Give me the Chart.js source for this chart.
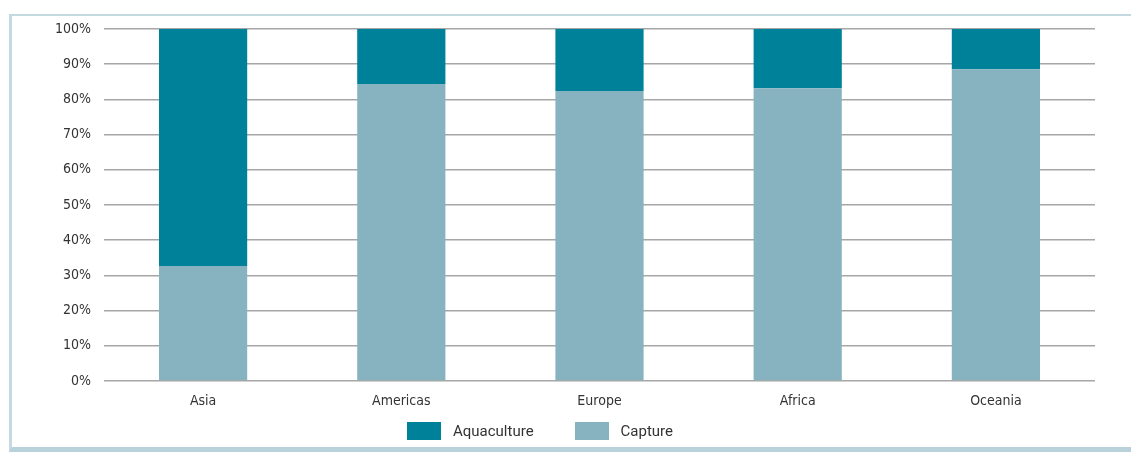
<!DOCTYPE html>
<html>
<head>
<meta charset="utf-8">
<script src="https://cdn.jsdelivr.net/npm/chart.js@4.4.1/dist/chart.umd.min.js"></script>
<style>
  html, body { margin: 0; padding: 0; background: #fff; }
  .frame {
    position: absolute; left: 9px; top: 14px; width: 1140px; height: 431px;
    border-left: 3px solid #c4d9e0; border-top: 2px solid #c4d9e0; border-bottom: 5px solid #b9d1da;
  }
  #chart { position: absolute; left: 0; top: 0; }
  #legend {
    position: absolute; left: 407px; top: 422px; display: flex; align-items: center;
    font: 15px Roboto, sans-serif; color: #333;
  }
  #legend .item { display: flex; align-items: center; margin-right: 41px; }
  #legend .box { width: 34px; height: 18px; margin-right: 12px; }
</style>
</head>
<body>
<div class="frame"></div>
<canvas id="chart" width="1131" height="455"></canvas>
<div id="legend"></div>
<script>
const regions = ['Asia', 'Americas', 'Europe', 'Africa', 'Oceania'];
const capture = [32.7, 84.4, 82.4, 83.2, 88.6];
const aquaculture = [67.3, 15.6, 17.6, 16.8, 11.4];

const tickFont = { family: '"DejaVu Sans Condensed", "Liberation Sans Narrow", sans-serif', size: 14 };

// legend as html, top of the stack listed first
const htmlLegend = {
  id: 'htmlLegend',
  afterUpdate(chart) {
    const el = document.getElementById('legend');
    el.innerHTML = '';
    chart.data.datasets.slice().reverse().forEach((ds) => {
      const item = document.createElement('div');
      item.className = 'item';
      const box = document.createElement('span');
      box.className = 'box';
      box.style.background = ds.backgroundColor;
      const txt = document.createElement('span');
      txt.textContent = ds.label;
      item.appendChild(box);
      item.appendChild(txt);
      el.appendChild(item);
    });
  },
};

new Chart(document.getElementById('chart'), {
  type: 'bar',
  data: {
    labels: regions,
    datasets: [
      // capture sits at the bottom of each stack
      { label: 'Capture', data: capture, backgroundColor: '#87b3c0' },
      { label: 'Aquaculture', data: aquaculture, backgroundColor: '#00819a' },
    ],
  },
  plugins: [htmlLegend],
  options: {
    responsive: false,
    animation: false,
    categoryPercentage: 1,
    barPercentage: 0.445,
    layout: { padding: { left: 0, right: 36, top: 29, bottom: 0 } },
    plugins: {
      tooltip: { enabled: false },
      legend: { display: false },
    },
    scales: {
      x: {
        stacked: true,
        grid: { display: false, drawTicks: false },
        border: { display: false },
        ticks: { color: '#333', font: tickFont, padding: 12 },
        afterFit: (s) => { s.height = 74; },
      },
      y: {
        stacked: true,
        min: 0,
        max: 100,
        grid: { color: '#a6a6a6', lineWidth: 1.5, drawTicks: false },
        border: { display: false },
        ticks: {
          stepSize: 10,
          color: '#333',
          font: tickFont,
          padding: 13,
          callback: (v) => v + '%',
        },
        afterFit: (s) => { s.width = 104; },
      },
    },
  },
});
</script>
</body>
</html>
